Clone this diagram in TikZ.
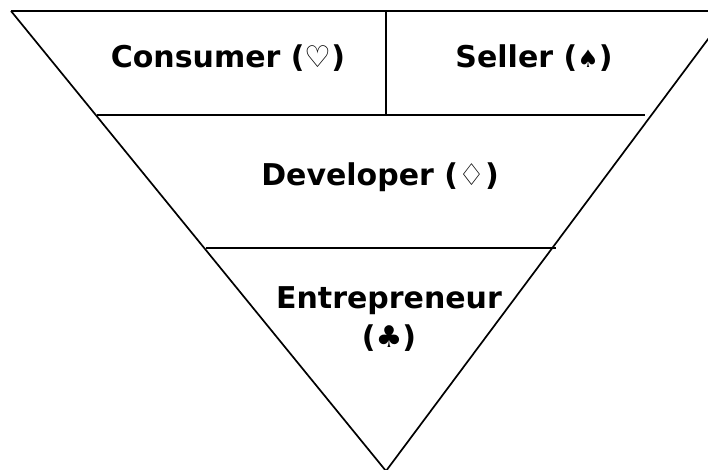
\documentclass[tikz,border=0pt]{standalone}
\usepackage{fontspec}
\setmainfont{DejaVu Sans}
\newfontfamily\symfont{DejaVu Sans}
\begin{document}
\begin{tikzpicture}[x=1pt,y=-1pt,
  edge/.style={line width=1.7pt,black},
  lbl/.style={font=\bfseries\fontsize{30}{37}\selectfont,align=center,inner sep=0pt}]
\useasboundingbox (0,0) rectangle (708,470);
\clip (0,0) rectangle (708,470);
\fill[white] (0,0) rectangle (708,470);
% triangle
\coordinate (tl) at (11,11);
\coordinate (tr) at (729,11);
\coordinate (ap) at (386,471);
\draw[edge] (tl) -- (tr);
\draw[edge] (tl) -- (ap) -- (tr);
% dividers
\coordinate (a1) at (97,115);
\coordinate (a2) at (645,115);
\coordinate (b1) at (206,248);
\coordinate (b2) at (556,248);
\coordinate (v1) at (386,11);
\coordinate (v2) at (386,116);
\draw[edge] (a1) -- (a2);
\draw[edge] (b1) -- (b2);
\draw[line width=1.2pt] (v1) -- (v2);
% labels
\node[lbl] (consumer) at (228,58) {Consumer ({\mdseries\symfont ♡})};
\node[lbl] (seller) at (534,58) {Seller ({\fontsize{24}{28}\selectfont ♠})};
\node[lbl] (developer) at (380,177) {Developer ({\mdseries\symfont ♢})};
\node[lbl] (entre) at (389,319) {Entrepreneur\\[2pt](♣)};
\end{tikzpicture}
\end{document}
